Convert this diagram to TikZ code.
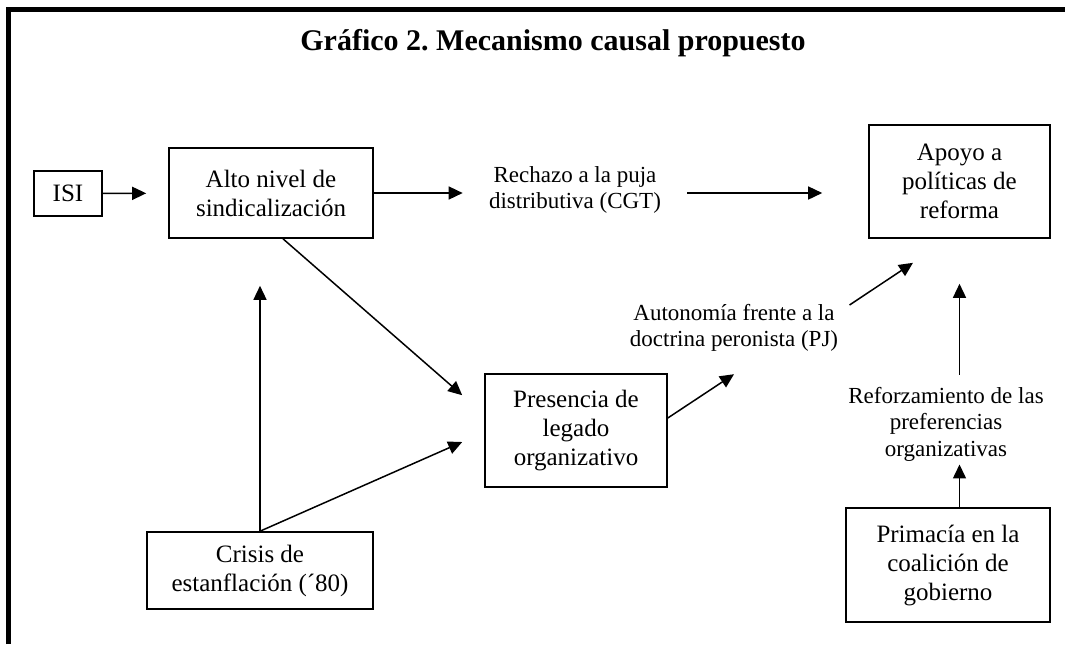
\documentclass[tikz,border=0pt]{standalone}
\usepackage{fontspec}
\setmainfont{Liberation Serif}
\usetikzlibrary{arrows.meta}
\frenchspacing
\def\unidad{0.5pt}

\begin{document}
\begin{tikzpicture}[x=\unidad, y=-\unidad,
    caja/.style={draw, line width=0.8pt, align=center, inner sep=0pt, font=\fontsize{12.5}{14.5}\selectfont},
    etiqueta/.style={align=center, inner sep=0pt, font=\fontsize{11.5}{13.25}\selectfont},
    flecha/.style={line width=0.75pt, -{Triangle[length=7pt,width=6.5pt]}}]
      \useasboundingbox (0,0) rectangle (1065,644);
      \draw[line width=2.5pt] (8.5,644) -- (8.5,9.5) -- (1065,9.5);
      \node[anchor=base, font=\fontsize{15}{18}\selectfont\bfseries] (titulo) at (553,50) {Gráfico 2. Mecanismo causal propuesto};
      \node[caja, minimum width=34pt, minimum height=22.5pt] (isi) at (68,193.5) {ISI};
      \node[caja, minimum width=102pt, minimum height=45pt] (alto) at (271,193) {Alto nivel de\\sindicalización};
      \node[etiqueta] (rechazo) at (575,190) {Rechazo a la puja\\distributiva (CGT)};
      \node[caja, minimum width=90.5pt, minimum height=56.5pt] (apoyo) at (959.5,181.5) {Apoyo a\\políticas de\\reforma};
      \node[caja, minimum width=91pt, minimum height=56.5pt] (presencia) at (576,430.5) {Presencia de\\legado\\organizativo};
      \node[etiqueta] (autonomia) at (734,328) {Autonomía frente a la\\doctrina peronista (PJ)};
      \node[etiqueta] (refuerzo) at (946,424) {Reforzamiento de las\\preferencias\\organizativas};
      \node[caja, minimum width=102pt, minimum height=57pt] (primacia) at (948,565) {Primacía en la\\coalición de\\gobierno};
      \node[caja, minimum width=113pt, minimum height=38.5pt] (crisis) at (260,570.5) {Crisis de\\estanflación (´80)};
      \draw[flecha, shorten >=11pt] (isi) -- (alto);
      \draw[flecha, shorten >=13pt] (alto.east) -- (alto.east -| rechazo.west);
      \draw[flecha, shorten <=13pt, shorten >=23pt] (rechazo.east |- alto.east) -- (apoyo.west |- alto.east);
      \draw[flecha] ([xshift=6pt]alto.south) -- ([xshift=-11pt,yshift=-11pt]presencia.north west);
      \draw[flecha, shorten >=23.5pt] (crisis.north) -- (crisis.north |- alto.south);
      \draw[flecha] (crisis.north) -- ([xshift=-11pt,yshift=-5.75pt]presencia.west);
      \draw[flecha] ([yshift=6.25pt]presencia.east) -- ([yshift=-11pt]autonomia.south);
      \draw[flecha] ([xshift=5.5pt,yshift=11.5pt]autonomia.east) -- ([xshift=-23.25pt,yshift=-12pt]apoyo.south);
      \draw[flecha, shorten <=6pt, shorten >=22.5pt] (apoyo.south |- refuerzo.north) -- (apoyo.south);
      \draw[flecha, shorten >=1.5pt] (apoyo.south |- primacia.north) -- (apoyo.south |- refuerzo.south);
\end{tikzpicture}
\end{document}
